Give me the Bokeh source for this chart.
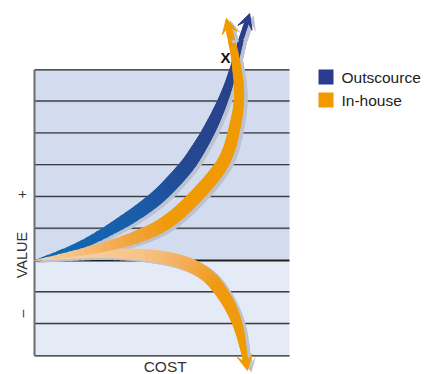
import numpy as np
from bokeh.plotting import figure
from bokeh.models import Range1d, Arrow, VeeHead
from bokeh.embed import file_html
from bokeh.resources import INLINE
from bokeh.core.properties import value

# ---------------- data ----------------
series = ["Outscource", "In-house"]
series_colors = ["#283b8c", "#f09a00"]

cost_min, cost_max = 0, 8
value_min, value_max = -3, 6
value_lines = [-3, -2, -1, 0, 1, 2, 3, 4, 5, 6]

# Outsource curve (cost, value)
out_cost = [0.0, 0.82, 1.60, 2.45, 3.20, 3.89, 4.39, 4.83, 5.15, 5.43, 5.68, 5.90, 6.09, 6.23, 6.37, 6.49]
out_value = [0.0, 0.25, 0.54, 1.01, 1.48, 2.00, 2.52, 3.02, 3.52, 4.00, 4.50, 5.00, 5.51, 6.01, 6.51, 6.99]
out_tip = (6.75, 7.77)

# In-house, success branch
inh_up_cost = [0.0, 0.82, 1.76, 2.86, 3.89, 4.52, 5.05, 5.52, 5.90, 6.12, 6.24, 6.35, 6.42, 6.42, 6.35, 6.28, 6.18]
inh_up_value = [0.0, 0.13, 0.32, 0.60, 1.01, 1.48, 2.00, 2.52, 3.02, 3.52, 4.00, 4.50, 5.00, 5.51, 6.01, 6.51, 6.92]
inh_up_tip = (6.02, 7.62)

# In-house, failure branch
inh_dn_cost = [0.0, 1.13, 2.07, 3.11, 4.17, 4.89, 5.46, 5.84, 6.15, 6.37, 6.49, 6.56]
inh_dn_value = [0.0, 0.13, 0.22, 0.22, 0.09, -0.13, -0.47, -0.94, -1.45, -1.98, -2.45, -2.83]
inh_dn_tip = (6.68, -3.46)

crossing_label = ("X", 5.99, 6.39)

# ---------------- styles ----------------
SX, SY = 31.875, 31.78   # px per unit
out_width = [0.5, 5, 8, 12, 14, 15, 15, 15, 14, 13, 12, 10, 9, 7, 6, 5]
up_width = [0.5, 5, 8, 12, 14, 14, 14, 14, 13, 12, 12, 11, 10, 10, 9, 8, 7]
dn_width = [0.5, 5, 8, 11, 13, 14, 14, 13, 12, 10, 8, 6]

out_stops = [(0, "#0b70ba"), (0.3, "#1a5ba8"), (0.5, "#26478f"), (1, "#2a3f8a")]
up_stops = [(0, "#fad6a8"), (0.12, "#f6c185"), (0.22, "#f0a43e"), (0.3, "#f09a08"), (1, "#f09a00")]
dn_stops = [(0, "#fad8ab"), (0.3, "#f7c58c"), (0.48, "#f2aa50"), (0.62, "#f09a10"), (1, "#f09a00")]
SHADOW = "#bcc2d0"
SPLIT = 5


def hex2rgb(h):
    h = h.lstrip("#")
    return np.array([int(h[i:i + 2], 16) for i in (0, 2, 4)], float)


def grad(stops, t):
    for (t0, c0), (t1, c1) in zip(stops[:-1], stops[1:]):
        if t <= t1:
            f = 0 if t1 == t0 else (t - t0) / (t1 - t0)
            c = hex2rgb(c0) * (1 - f) + hex2rgb(c1) * f
            return "#%02x%02x%02x" % tuple(int(round(v)) for v in c)
    return stops[-1][1]


def pieces(xs, ys, ws, dx=0.0, dy=0.0):
    """Quadratic pieces (midpoint to midpoint, read point as control),
    each split exactly (de Casteljau) so that the stroke width can taper."""
    P = np.column_stack([np.array(xs) + dx / SX, np.array(ys) - dy / SY])
    W = np.array(ws, float)
    M = (P[:-1] + P[1:]) / 2
    WM = (W[:-1] + W[1:]) / 2
    starts = [P[0]] + list(M)
    ends = list(M) + [P[-1]]
    ctrls = [(P[0] + M[0]) / 2] + list(P[1:-1]) + [(M[-1] + P[-1]) / 2]
    wst = [W[0]] + list(WM)
    wen = list(WM) + [W[-1]]
    out = dict(x0=[], y0=[], x1=[], y1=[], cx=[], cy=[], w=[])
    for a, c, b, w0, w1 in zip(starts, ctrls, ends, wst, wen):
        for j in range(SPLIT):
            ta, tb = j / SPLIT, (j + 1) / SPLIT
            bl = lambda u, v: (1 - u) * (1 - v) * a + ((1 - u) * v + u * (1 - v)) * c + u * v * b
            s, e, k = bl(ta, ta), bl(tb, tb), bl(ta, tb)
            out["x0"].append(s[0]); out["y0"].append(s[1])
            out["x1"].append(e[0]); out["y1"].append(e[1])
            out["cx"].append(k[0]); out["cy"].append(k[1])
            out["w"].append(w0 + (w1 - w0) * (ta + tb) / 2)
    return out


p = figure(width=426, height=374, output_backend="svg", toolbar_location=None,
           x_range=Range1d(-34 / SX, (426 - 34) / SX),
           y_range=Range1d((260 - 374) / SY, 260 / SY),
           x_axis_type=None, y_axis_type=None, min_border=0)
p.outline_line_color = None
p.grid.visible = False
p.background_fill_color = "white"
p.border_fill_color = "white"

# bands
p.quad(left=[cost_min], right=[cost_max], bottom=[0], top=[value_max],
       fill_color="#d3dcee", line_color=None)
p.quad(left=[cost_min], right=[cost_max], bottom=[value_min], top=[0],
       fill_color="#e5ebf6", line_color=None)

# horizontal lines
inner = [v for v in value_lines if v not in (0, value_max, value_min)]
p.segment(x0=[cost_min] * len(inner), x1=[cost_max] * len(inner), y0=inner, y1=inner,
          line_color="#8a8e96", line_width=1)
p.segment(x0=[cost_min] * len(inner), x1=[cost_max] * len(inner),
          y0=[v + 0.02 for v in inner], y1=[v + 0.02 for v in inner],
          line_color="#3a3d42", line_width=1.2)
p.segment(x0=[cost_min] * 2, x1=[cost_max] * 2, y0=[value_max, value_min], y1=[value_max, value_min],
          line_color="#1e1e1e", line_width=1.3)
p.segment(x0=[cost_min], x1=[cost_max], y0=[0], y1=[0], line_color="#1e1e1e", line_width=2)
p.segment(x0=[cost_min], x1=[cost_min], y0=[value_min], y1=[value_max],
          line_color="#6a6d72", line_width=2)

curves = [
    (inh_dn_cost, inh_dn_value, dn_width, dn_stops, inh_dn_tip, series_colors[1]),
    (out_cost, out_value, out_width, out_stops, out_tip, series_colors[0]),
    (inh_up_cost, inh_up_value, up_width, up_stops, inh_up_tip, series_colors[1]),
]

# shadows
for xs, ys, ws, stops, tip, col in curves:
    d = pieces(xs, ys, ws, dx=3.5, dy=2)
    p.quadratic(x0=d["x0"], y0=d["y0"], x1=d["x1"], y1=d["y1"], cx=d["cx"], cy=d["cy"],
                line_width=d["w"], line_color=SHADOW, line_cap="round")
    p.add_layout(Arrow(x_start=xs[-1] + 4 / SX, y_start=ys[-1] - 2 / SY,
                       x_end=tip[0] + 4 / SX, y_end=tip[1] - 2 / SY,
                       line_color=SHADOW, line_width=ws[-1],
                       end=VeeHead(size=15, fill_color=SHADOW, line_color=None)))

# ribbons
for xs, ys, ws, stops, tip, col in curves:
    d = pieces(xs, ys, ws)
    n = len(d["x0"])
    cols = [grad(stops, i / (n - 1)) for i in range(n)]
    p.quadratic(x0=d["x0"], y0=d["y0"], x1=d["x1"], y1=d["y1"], cx=d["cx"], cy=d["cy"],
                line_width=d["w"], line_color=cols, line_cap="round")
    p.add_layout(Arrow(x_start=xs[-1], y_start=ys[-1], x_end=tip[0], y_end=tip[1],
                       line_color=col, line_width=ws[-1],
                       end=VeeHead(size=15, fill_color=col, line_color=col, line_width=1)))

# texts
font = value("Liberation Sans")
p.text(x=[crossing_label[1]], y=[crossing_label[2]], text=[crossing_label[0]],
       text_font=font, text_font_size="15px", text_font_style="bold",
       text_align="center", text_baseline="middle", text_color="#111111")
p.text(x=[(21 - 34) / SX], y=[(260 - 254.5) / SY], text=["VALUE"], angle=np.pi / 2,
       text_font=font, text_font_size="14.5px", text_align="center", text_baseline="middle",
       text_color="#333333")
p.text(x=[(21.5 - 34) / SX, (21.5 - 34) / SX], y=[(260 - 194) / SY, (260 - 313) / SY],
       text=["+", "\u2013"], angle=np.pi / 2,
       text_font=font, text_font_size="14px", text_align="center", text_baseline="middle",
       text_color="#333333")
p.text(x=[(cost_min + cost_max) / 2 + 0.1], y=[(260 - 365.5) / SY], text=["COST"],
       text_font=font, text_font_size="15.5px", text_align="center", text_baseline="alphabetic",
       text_color="#333333")

# legend
lx0, lx1 = (318 - 34) / SX, (333 - 34) / SX
tops = [(260 - 69) / SY, (260 - 92) / SY]
p.quad(left=[lx0, lx0], right=[lx1, lx1], top=tops, bottom=[t - 15 / SY for t in tops],
       fill_color=series_colors, line_color=None)
p.text(x=[(341 - 34) / SX] * 2, y=[t - 7.5 / SY for t in tops], text=series,
       text_font=font, text_font_size="15.5px", text_align="left", text_baseline="middle",
       text_color="#222222")

open("out.html", "w").write(file_html(p, INLINE))
